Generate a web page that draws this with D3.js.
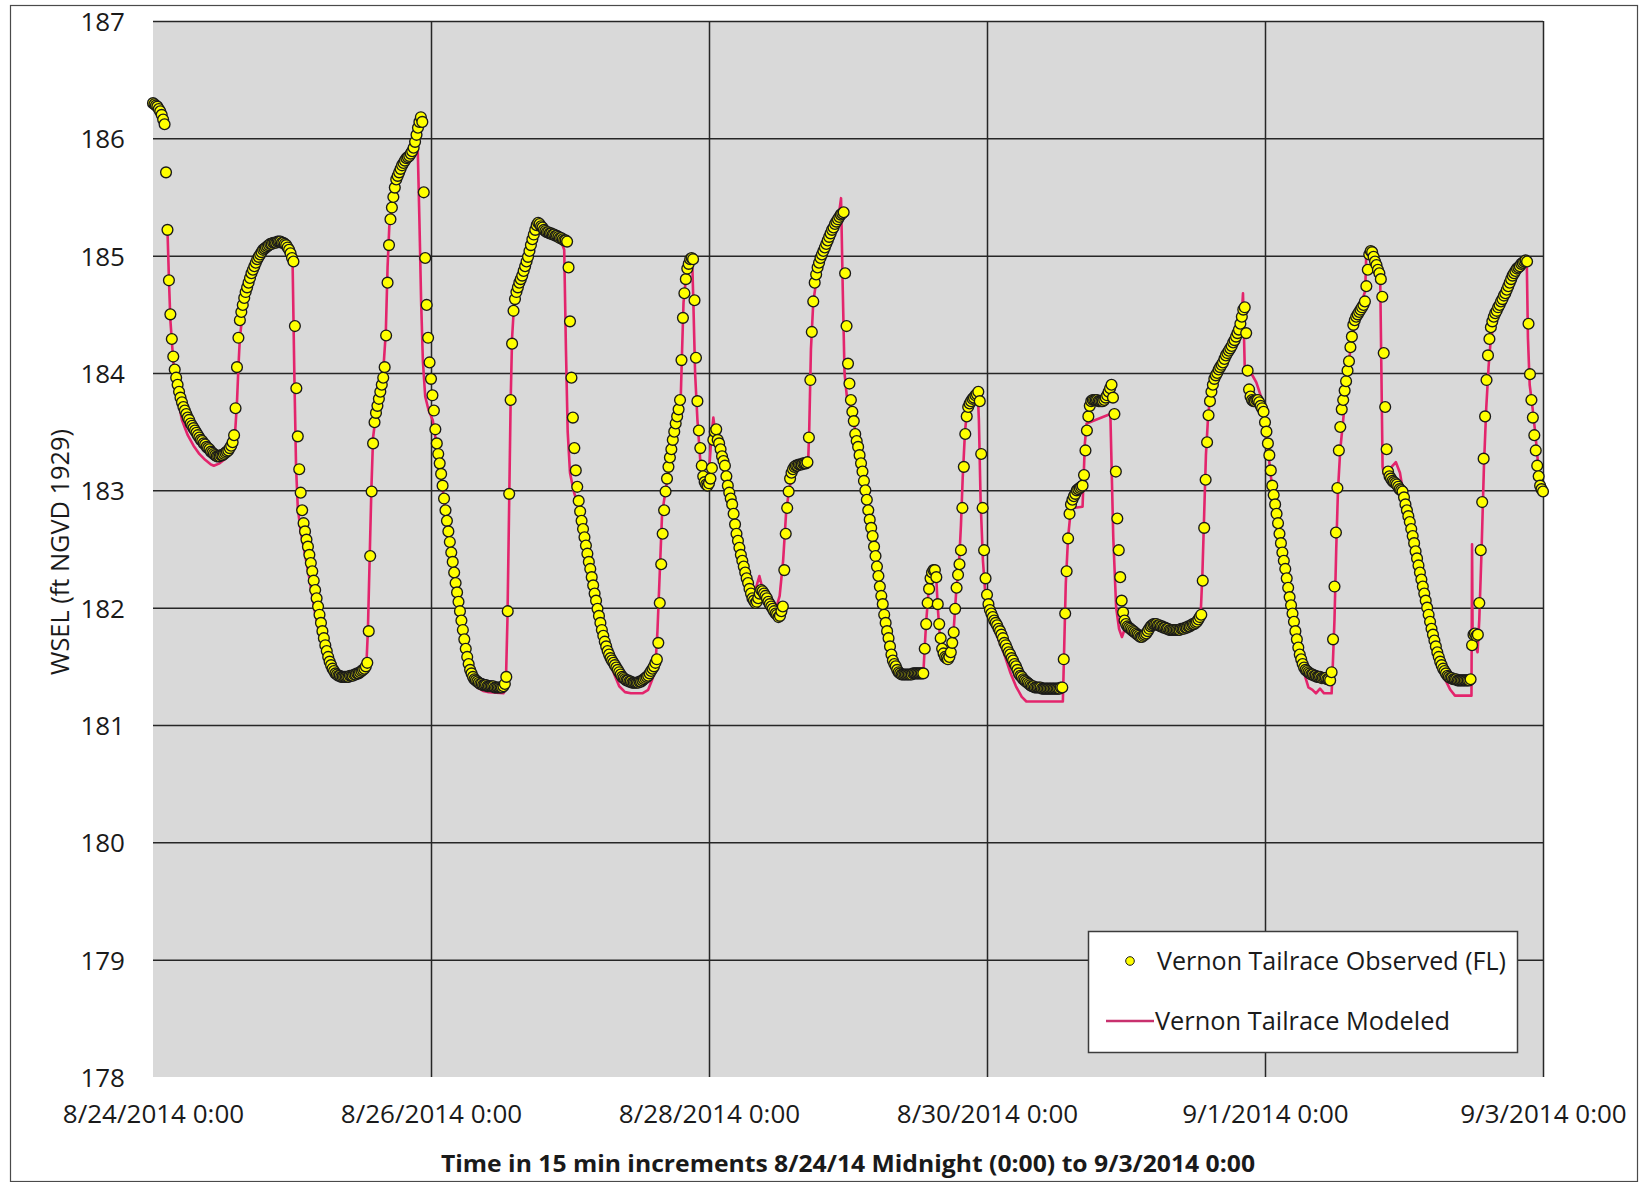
<!DOCTYPE html>
<html><head><meta charset="utf-8">
<script src="https://cdn.jsdelivr.net/npm/d3@7"></script>
<style>
body{margin:0;background:#fff}
svg{display:block}
text{font-family:"Open Sans","Noto Sans",sans-serif;fill:#1a1a1a}
</style>
</head><body>
<svg id="chart" width="1640" height="1182"></svg>
<script>
// ---------- DATA ----------
const startTime = Date.UTC(2014, 7, 24, 0, 0);   // 8/24/2014 0:00
const endTime = Date.UTC(2014, 8, 3, 0, 0);      // 9/3/2014 0:00
const intervalMinutes = 15;

// Vernon Tailrace Observed (FL), one value every 15 minutes (4 per row group = 1 hour)
const observed = [
186.30,186.29,186.28,186.27, 186.25,186.23,186.20,186.16, 186.12,185.71,185.22,184.79, 184.50,184.29,184.14,184.03,
183.96,183.90,183.84,183.79, 183.75,183.71,183.68,183.65, 183.62,183.60,183.57,183.55, 183.53,183.51,183.49,183.47,
183.45,183.43,183.42,183.40, 183.39,183.37,183.36,183.35, 183.33,183.32,183.31,183.30, 183.29,183.29,183.29,183.30,
183.30,183.31,183.32,183.33, 183.34,183.36,183.38,183.41, 183.47,183.70,184.05,184.30, 184.45,184.52,184.58,184.64,
184.69,184.73,184.77,184.81, 184.85,184.88,184.91,184.94, 184.97,184.99,185.01,185.03, 185.05,185.06,185.07,185.08,
185.09,185.10,185.10,185.11, 185.11,185.11,185.12,185.12, 185.12,185.11,185.11,185.10, 185.09,185.07,185.05,185.02,
184.98,184.95,184.40,183.87, 183.46,183.18,182.98,182.83, 182.72,182.65,182.58,182.52, 182.45,182.38,182.31,182.23,
182.15,182.08,182.01,181.94, 181.87,181.80,181.74,181.68, 181.63,181.58,181.54,181.51, 181.48,181.46,181.44,181.43,
181.42,181.42,181.41,181.41, 181.41,181.41,181.41,181.41, 181.42,181.42,181.42,181.43, 181.43,181.44,181.44,181.45,
181.46,181.47,181.48,181.50, 181.53,181.80,182.44,182.99, 183.40,183.58,183.66,183.72, 183.78,183.84,183.90,183.96,
184.05,184.32,184.77,185.09, 185.31,185.41,185.50,185.58, 185.65,185.68,185.71,185.74, 185.77,185.79,185.81,185.83,
185.84,185.85,185.87,185.89, 185.92,185.97,186.03,186.09, 186.14,186.18,186.14,185.54, 184.98,184.58,184.30,184.09,
183.95,183.81,183.68,183.52, 183.40,183.31,183.23,183.14, 183.04,182.93,182.83,182.74, 182.65,182.56,182.47,182.39,
182.30,182.21,182.13,182.05, 181.97,181.89,181.81,181.73, 181.65,181.58,181.52,181.47, 181.44,181.41,181.39,181.38,
181.37,181.36,181.35,181.35, 181.34,181.34,181.34,181.33, 181.33,181.33,181.33,181.33, 181.32,181.32,181.32,181.32,
181.32,181.32,181.33,181.35, 181.41,181.97,182.97,183.77, 184.25,184.53,184.63,184.69, 184.73,184.77,184.80,184.83,
184.87,184.91,184.95,184.99, 185.04,185.09,185.14,185.18, 185.22,185.26,185.28,185.27, 185.25,185.24,185.22,185.21,
185.20,185.20,185.19,185.19, 185.18,185.18,185.17,185.17, 185.16,185.15,185.15,185.14, 185.13,185.13,185.12,184.90,
184.44,183.96,183.62,183.36, 183.17,183.03,182.91,182.82, 182.74,182.67,182.60,182.53, 182.46,182.39,182.33,182.26,
182.19,182.12,182.06,181.99, 181.93,181.87,181.81,181.76, 181.71,181.67,181.63,181.60, 181.57,181.55,181.53,181.51,
181.49,181.47,181.45,181.43, 181.41,181.40,181.39,181.38, 181.38,181.37,181.37,181.36, 181.36,181.36,181.36,181.36,
181.37,181.37,181.38,181.39, 181.40,181.41,181.42,181.44, 181.46,181.48,181.50,181.53, 181.56,181.70,182.04,182.37,
182.63,182.83,182.99,183.10, 183.20,183.28,183.35,183.43, 183.50,183.57,183.63,183.69, 183.77,184.11,184.47,184.68,
184.80,184.89,184.93,184.97, 184.98,184.97,184.62,184.13, 183.76,183.51,183.36,183.21, 183.12,183.07,183.05,183.04,
183.06,183.10,183.19,183.43, 183.50,183.52,183.43,183.40, 183.35,183.29,183.25,183.21, 183.12,183.04,182.98,182.93,
182.88,182.80,182.71,182.63, 182.57,182.51,182.45,182.40, 182.35,182.30,182.25,182.21, 182.16,182.12,182.08,182.06,
182.04,182.05,182.08,182.12, 182.15,182.14,182.12,182.10, 182.08,182.05,182.03,182.01, 181.99,181.97,181.95,181.94,
181.92,181.93,181.97,182.01, 182.32,182.63,182.85,182.99, 183.10,183.15,183.18,183.20, 183.21,183.21,183.22,183.22,
183.22,183.23,183.23,183.23, 183.24,183.45,183.94,184.35, 184.61,184.77,184.84,184.90, 184.94,184.98,185.01,185.04,
185.07,185.10,185.13,185.16, 185.19,185.22,185.24,185.27, 185.29,185.31,185.33,185.35, 185.36,185.37,184.85,184.40,
184.08,183.91,183.77,183.67, 183.59,183.48,183.42,183.37, 183.30,183.23,183.16,183.08, 183.00,182.92,182.83,182.75,
182.68,182.61,182.52,182.44, 182.35,182.27,182.18,182.10, 182.03,181.94,181.87,181.80, 181.74,181.67,181.60,181.55,
181.52,181.50,181.47,181.45, 181.44,181.43,181.43,181.43, 181.43,181.43,181.43,181.43, 181.43,181.44,181.44,181.44,
181.44,181.44,181.44,181.44, 181.44,181.65,181.86,182.04, 182.16,182.25,182.30,182.32, 182.32,182.26,182.03,181.86,
181.74,181.65,181.61,181.58, 181.57,181.56,181.58,181.62, 181.70,181.79,181.99,182.17, 182.28,182.37,182.49,182.85,
183.20,183.48,183.63,183.71, 183.74,183.76,183.78,183.79, 183.81,183.82,183.84,183.76, 183.31,182.85,182.49,182.25,
182.11,182.03,181.98,181.95, 181.92,181.89,181.87,181.85, 181.82,181.80,181.77,181.74, 181.70,181.68,181.65,181.62,
181.60,181.57,181.55,181.52, 181.50,181.47,181.44,181.42, 181.41,181.39,181.38,181.37, 181.36,181.35,181.34,181.33,
181.33,181.32,181.32,181.32, 181.32,181.32,181.31,181.31, 181.31,181.31,181.31,181.31, 181.31,181.31,181.31,181.31,
181.31,181.31,181.31,181.32, 181.32,181.56,181.95,182.31, 182.59,182.80,182.88,182.92, 182.95,182.97,183.00,183.01,
183.02,183.03,183.04,183.13, 183.34,183.51,183.63,183.72, 183.76,183.77,183.77,183.77, 183.77,183.76,183.76,183.76,
183.76,183.77,183.79,183.81, 183.84,183.87,183.90,183.79, 183.65,183.16,182.76,182.49, 182.26,182.06,181.96,181.89,
181.86,181.84,181.83,181.82, 181.81,181.80,181.79,181.78, 181.77,181.76,181.75,181.75, 181.76,181.77,181.78,181.80,
181.82,181.84,181.85,181.86, 181.86,181.86,181.85,181.85, 181.84,181.84,181.83,181.83, 181.82,181.82,181.81,181.81,
181.81,181.81,181.81,181.81, 181.81,181.81,181.82,181.82, 181.82,181.83,181.83,181.84, 181.84,181.85,181.86,181.86,
181.87,181.88,181.90,181.92, 181.94,182.23,182.68,183.09, 183.41,183.64,183.76,183.84, 183.90,183.95,183.98,184.00,
184.03,184.05,184.07,184.09, 184.12,184.15,184.17,184.19, 184.21,184.23,184.26,184.28, 184.31,184.34,184.37,184.42,
184.48,184.54,184.56,184.34, 184.02,183.86,183.80,183.77, 183.76,183.76,183.77,183.77, 183.75,183.72,183.70,183.67,
183.58,183.50,183.40,183.30, 183.17,183.04,182.96,182.88, 182.80,182.72,182.63,182.55, 182.47,182.40,182.33,182.25,
182.17,182.09,182.02,181.95, 181.88,181.80,181.73,181.66, 181.60,181.56,181.52,181.49, 181.47,181.46,181.45,181.44,
181.43,181.43,181.42,181.42, 181.41,181.41,181.41,181.40, 181.40,181.40,181.40,181.39, 181.39,181.38,181.45,181.73,
182.18,182.64,183.02,183.34, 183.54,183.69,183.77,183.85, 183.93,184.02,184.10,184.22, 184.31,184.41,184.45,184.48,
184.50,184.52,184.54,184.56, 184.58,184.61,184.74,184.88, 185.01,185.04,185.03,184.99, 184.95,184.92,184.88,184.85,
184.80,184.65,184.17,183.71, 183.35,183.16,183.12,183.10, 183.08,183.07,183.06,183.05, 183.03,183.01,183.00,182.99,
182.94,182.88,182.83,182.78, 182.73,182.67,182.61,182.55, 182.48,182.42,182.36,182.30, 182.24,182.18,182.12,182.06,
182.00,181.94,181.88,181.82, 181.77,181.72,181.67,181.62, 181.58,181.54,181.51,181.48, 181.46,181.44,181.42,181.41,
181.40,181.40,181.39,181.39, 181.39,181.38,181.38,181.38, 181.38,181.38,181.38,181.38, 181.38,181.38,181.39,181.68,
181.77,181.78,181.76,181.77, 182.04,182.49,182.90,183.27, 183.63,183.94,184.15,184.29, 184.39,184.44,184.48,184.51,
184.53,184.56,184.58,184.61, 184.63,184.66,184.68,184.71, 184.74,184.77,184.80,184.83, 184.85,184.87,184.89,184.90,
184.91,184.93,184.94,184.95, 184.96,184.95,184.42,183.99, 183.77,183.62,183.47,183.34, 183.21,183.12,183.04,183.01,
182.99
];

// Vernon Tailrace Modeled, read at its break points (hours after 8/24/2014 0:00)
const modeledHours = [
2.5,2.75,3.0,3.5,4.0,5.0,6.0,7.0,8.0,9.0,10.0,10.5,11.5,12.5,13.5,14.0,14.25,14.5,14.75,15.0,15.5,16,17,18,19,20,21,22,23,23.8,
24.1,24.4,24.7,25.0,25.5,26.0,27.0,28.0,29.0,30.0,31.0,32.0,36.0,36.8,37.1,37.4,37.7,38.0,38.5,39.2,39.8,40.2,40.5,40.8,41.5,42.5,43.5,44.5,45.2,45.7,
46.0,46.3,46.6,47.0,47.6,48.3,48.6,49.0,49.5,50.0,50.5,51,52,53,54,55,56,57,58,60.5,60.9,61.2,61.5,61.75,62.0,62.3,63,64,65,65.8,
66.2,67,69,70.5,71.0,71.3,71.6,72.0,72.6,73.2,73.7,74.5,75.5,76.5,77.5,78.5,79.5,80.5,81.5,82.5,84.5,85.5,86.3,86.8,87.1,87.5,87.9,88.5,89.5,90.5,
91.1,91.3,91.6,92.0,92.6,93.1,93.3,93.6,94.0,94.5,95.0,95.5,96.0,96.4,96.75,97.2,98,99,100,101,102,103,104,104.7,105.3,106,106.8,107.5,108.2,108.8,
109.3,109.8,110.5,111.5,113.1,113.3,113.6,114,114.5,115.5,116.5,117.5,118.5,118.8,119.1,119.4,119.8,120.5,121,122,123,124,125,126,127,128,129,133,133.2,133.5,
133.8,134.1,134.5,135.1,135.3,135.5,135.8,136.3,137.3,137.9,138.3,138.7,139.2,139.5,139.8,140.2,140.6,141.5,142.4,142.6,142.9,143.3,143.7,144.2,145,146,147,148,149,150,
150.8,157.1,157.3,157.6,158,158.4,158.8,160.5,160.9,161.2,165.3,165.8,166.3,166.8,167.3,167.8,168.5,169.5,170.5,171.5,172.5,173.5,175,177,179,180.5,180.9,181.2,181.5,181.8,
182.2,182.7,183.5,184.5,185.5,186.5,187.5,188.0,188.2,188.5,188.9,189.6,190.5,191.3,191.8,192.5,193.2,194,195,196,197,198,198.7,199.5,200.2,200.8,201.5,202.2,203.5,203.7,
204.0,204.3,204.6,205.0,205.5,206,206.5,207,208,209.0,209.3,209.5,210.5,211.5,211.9,212.1,212.3,212.5,213.5,214.6,215.3,215.8,216.3,217,218,219,220,221,222,223,
224,224.8,227.65,227.75,227.85,228.3,228.7,229.0,229.4,229.8,230.2,230.6,231,232,233,234,235,236,237.2,237.4,237.7,238.2,238.7,239.2,239.6,240
];
const modeledValues = [
185.22,184.80,184.45,184.10,183.85,183.60,183.47,183.38,183.31,183.26,183.22,183.21,183.23,183.27,183.33,183.40,183.55,183.75,184.05,184.30,184.52,184.68,184.87,184.98,185.05,185.09,185.11,185.11,185.07,185.00,
184.95,184.00,183.20,182.85,182.65,182.52,182.25,181.95,181.72,181.55,181.45,181.42,181.43,181.46,181.80,182.40,183.00,183.45,183.65,183.90,184.05,184.35,184.90,185.25,185.50,185.68,185.80,185.85,185.88,185.93,
185.30,184.60,184.10,183.80,183.68,183.60,183.50,183.38,183.20,183.02,182.80,182.60,182.25,181.95,181.60,181.40,181.32,181.29,181.28,181.27,181.30,181.90,182.90,183.75,184.30,184.55,184.72,184.88,185.05,185.25,
185.30,185.25,185.18,185.12,185.05,184.20,183.50,183.15,183.00,182.90,182.80,182.56,182.30,182.04,181.80,181.60,181.45,181.33,181.28,181.27,181.27,181.30,181.40,181.55,181.80,182.30,182.80,183.00,183.30,183.55,
183.75,184.10,184.60,184.80,184.90,184.96,184.60,184.00,183.60,183.25,183.10,183.06,183.15,183.45,183.62,183.45,183.30,183.05,182.85,182.60,182.38,182.20,182.15,182.27,182.15,182.02,181.96,181.98,182.10,182.40,
182.80,183.00,183.15,183.20,183.22,183.50,184.20,184.60,184.78,185.00,185.15,185.27,185.38,185.49,184.70,184.00,183.80,183.70,183.58,183.30,182.98,182.68,182.35,182.03,181.74,181.52,181.44,181.43,181.62,181.88,
182.07,182.25,182.32,182.32,182.20,182.00,181.80,181.64,181.56,181.62,181.85,182.15,182.40,182.70,183.10,183.50,183.70,183.79,183.84,183.60,182.90,182.40,182.12,181.98,181.85,181.73,181.60,181.45,181.33,181.24,
181.20,181.20,181.60,182.20,182.60,182.80,182.85,182.86,183.40,183.57,183.65,182.60,182.00,181.82,181.75,181.82,181.83,181.79,181.75,181.77,181.84,181.85,181.82,181.81,181.84,181.88,181.95,182.30,182.80,183.30,
183.65,183.85,184.00,184.07,184.17,184.27,184.40,184.50,184.68,184.05,183.98,184.00,183.92,183.80,183.60,183.35,183.04,182.80,182.47,182.17,181.88,181.60,181.45,181.32,181.30,181.27,181.31,181.27,181.27,181.50,
181.90,182.50,183.00,183.35,183.60,183.85,184.10,184.30,184.50,184.65,184.70,185.04,185.00,184.85,184.78,184.00,183.20,183.14,183.18,183.24,183.15,183.00,182.88,182.73,182.48,182.24,182.00,181.75,181.55,181.40,
181.30,181.25,181.25,182.54,181.70,181.68,181.62,181.90,182.50,183.20,183.70,184.05,184.30,184.50,184.63,184.74,184.85,184.91,184.95,184.30,183.90,183.70,183.47,183.20,183.05,182.99
];

const yTickValues = [178, 179, 180, 181, 182, 183, 184, 185, 186, 187];
const xTickDates = ["2014-08-24T00:00:00Z","2014-08-26T00:00:00Z","2014-08-28T00:00:00Z","2014-08-30T00:00:00Z","2014-09-01T00:00:00Z","2014-09-03T00:00:00Z"];
const xTickLabels = ["8/24/2014 0:00","8/26/2014 0:00","8/28/2014 0:00","8/30/2014 0:00","9/1/2014 0:00","9/3/2014 0:00"];
const seriesNames = ["Vernon Tailrace Observed (FL)", "Vernon Tailrace Modeled"];
const xTitle = "Time in 15 min increments 8/24/14 Midnight (0:00) to 9/3/2014 0:00";
const yTitle = "WSEL (ft NGVD 1929)";

// ---------- CHART ----------
const svg = d3.select("#chart");
const plot = {left: 153, right: 1543, top: 21, bottom: 1077};
const pink = "#e3246c";
const gridColor = "#262626";

const x = d3.scaleUtc().domain([new Date(startTime), new Date(endTime)]).range([plot.left, plot.right]);
const y = d3.scaleLinear().domain([178, 187]).range([plot.bottom, plot.top]);

const obsData = observed.map((v, i) => ({t: new Date(startTime + i * intervalMinutes * 60000), v}));
const modData = modeledHours.map((h, i) => ({t: new Date(startTime + h * 3600000), v: modeledValues[i]}));

// outer chart border
svg.append("rect").attr("x", 10.5).attr("y", 5.5).attr("width", 1627).attr("height", 1176)
  .attr("fill", "#fff").attr("stroke", "#4a4a4a").attr("stroke-width", 1.2);

// plot area
svg.append("rect").attr("x", plot.left).attr("y", plot.top)
  .attr("width", plot.right - plot.left).attr("height", plot.bottom - plot.top)
  .attr("fill", "#d9d9d9");

// horizontal gridlines (via axis)
const yGrid = d3.axisLeft(y).tickValues(yTickValues.filter(v => v > 178))
  .tickSize(-(plot.right - plot.left)).tickFormat("");
const gy = svg.append("g").attr("transform", `translate(${plot.left},0)`).call(yGrid);
gy.select(".domain").remove();
gy.selectAll("line").attr("stroke", gridColor).attr("stroke-width", 1.5);

// vertical gridlines
const xDates = xTickDates.map(s => new Date(s));
const xGrid = d3.axisBottom(x).tickValues(xDates.slice(1))
  .tickSize(-(plot.bottom - plot.top)).tickFormat("");
const gx = svg.append("g").attr("transform", `translate(0,${plot.bottom})`).call(xGrid);
gx.select(".domain").remove();
gx.selectAll("line").attr("stroke", gridColor).attr("stroke-width", 1.5);

// y tick labels
const yAxis = d3.axisLeft(y).tickValues(yTickValues).tickSize(0).tickPadding(0).tickFormat(d3.format("d"));
const ya = svg.append("g").attr("transform", "translate(125,0)").call(yAxis);
ya.select(".domain").remove();
ya.selectAll("text").attr("font-size", 26).attr("font-family", '"Open Sans",sans-serif')
  .attr("fill", "#1a1a1a").attr("x", 0).attr("dy", "0.36em");

// x tick labels
const xAxis = d3.axisBottom(x).tickValues(xDates).tickSize(0).tickPadding(0)
  .tickFormat((d, i) => xTickLabels[i]);
const xa = svg.append("g").attr("transform", "translate(0,1123)").call(xAxis);
xa.select(".domain").remove();
xa.selectAll("text").attr("font-size", 26).attr("font-family", '"Open Sans",sans-serif')
  .attr("fill", "#1a1a1a").attr("y", 0).attr("dy", 0);

// axis titles
svg.append("text").attr("x", 848).attr("y", 1172).attr("text-anchor", "middle")
  .attr("font-size", 24).attr("font-weight", "bold")
  .attr("textLength", 814).attr("lengthAdjust", "spacingAndGlyphs").text(xTitle);
svg.append("text").attr("transform", "translate(69,552) rotate(-90)").attr("text-anchor", "middle")
  .attr("font-size", 25).attr("textLength", 246).attr("lengthAdjust", "spacingAndGlyphs").text(yTitle);

// modeled line
const line = d3.line().x(d => x(d.t)).y(d => y(d.v));
svg.append("path").datum(modData).attr("d", line)
  .attr("fill", "none").attr("stroke", pink).attr("stroke-width", 2.6).attr("stroke-linejoin", "round");

// observed markers
svg.append("g").selectAll("circle").data(obsData).join("circle")
  .attr("cx", d => x(d.t)).attr("cy", d => y(d.v)).attr("r", 5.4)
  .attr("fill", "#ffff00").attr("stroke", "#1a1a1a").attr("stroke-width", 1.35);

// legend
const lg = svg.append("g");
lg.append("rect").attr("x", 1088.5).attr("y", 931.5).attr("width", 429).attr("height", 121)
  .attr("fill", "#fff").attr("stroke", "#3c3c3c").attr("stroke-width", 1.5);
lg.append("circle").attr("cx", 1130).attr("cy", 961).attr("r", 4.3)
  .attr("fill", "#ffff00").attr("stroke", "#1a1a1a").attr("stroke-width", 1);
lg.append("text").attr("x", 1157).attr("y", 970).attr("font-size", 25)
  .attr("textLength", 349).attr("lengthAdjust", "spacingAndGlyphs").text(seriesNames[0]);
lg.append("line").attr("x1", 1106).attr("x2", 1154).attr("y1", 1021).attr("y2", 1021)
  .attr("stroke", "#c8306e").attr("stroke-width", 2.6);
lg.append("text").attr("x", 1155).attr("y", 1030).attr("font-size", 25)
  .attr("textLength", 295).attr("lengthAdjust", "spacingAndGlyphs").text(seriesNames[1]);
</script>
</body></html>
